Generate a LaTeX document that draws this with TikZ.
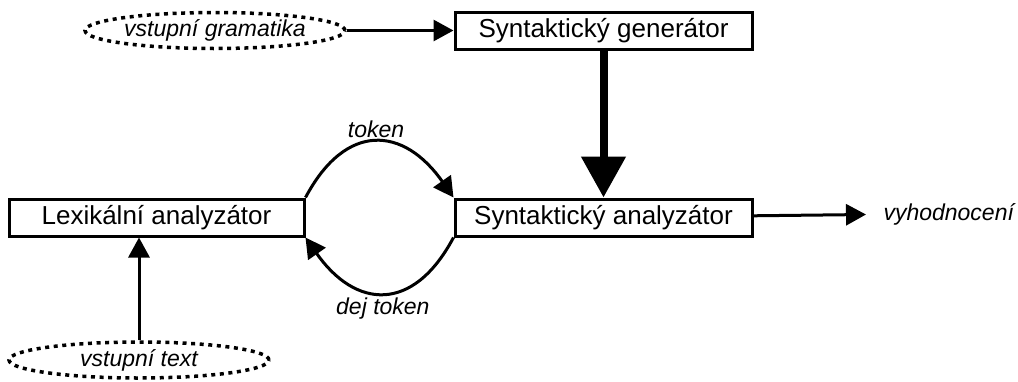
\documentclass[tikz,border=0pt]{standalone}
\usepackage{fontspec}
\setmainfont{Liberation Sans}
\usetikzlibrary{arrows.meta, positioning, shapes.geometric}

\begin{document}
\begin{tikzpicture}[
x=1pt, y=-1pt,
box/.style={rectangle, draw, line width=3pt, minimum width=297pt, minimum height=37pt, inner sep=0pt, font=\fontsize{26}{30}\selectfont},
input/.style={ellipse, draw, line width=3.5pt, dash pattern=on 4pt off 4.6pt, minimum width=260pt, minimum height=36pt, inner sep=0pt, font=\fontsize{23}{27}\itshape},
label/.style={font=\fontsize{23}{27}\itshape},
arrow/.style={-{Triangle[length=20pt, width=21pt]}, line width=3pt},
bigarrow/.style={-{Triangle[length=41pt, width=43pt]}, line width=8pt}
]
\useasboundingbox (0,0) rectangle (1018,381);

\node[box] (gen) at (603.5,30.5) {Syntaktický generátor};
\node[box, below=147pt of gen] (syn) {Syntaktický analyzátor};
\node[box, left=148pt of syn, minimum width=295pt] (lex) {Lexikální analyzátor};
\node[input] (gram) at (215,30.5) {vstupní gramatika};
\node[input] (text) at (139,360) {vstupní text};
\node[label, anchor=west] (out) at (880,214.5) {vyhodnocení};
\coordinate (end) at (866,214.5);

\draw[arrow] (gram) -- (gen);
\draw[bigarrow] (gen) -- (syn);
\draw[arrow] (syn) -- (end);
\draw[arrow] (text) -- (text |- lex.south);

% token loop between the analyzers
\draw[arrow] (lex.north east) to[out=62, in=125, looseness=1.5] node[label, above] (tok) {token} (syn.north west);
\draw[arrow] (syn.south west) to[out=-118, in=-55, looseness=1.5] node[label, below] (req) {dej token} (lex.south east);

\end{tikzpicture}
\end{document}
